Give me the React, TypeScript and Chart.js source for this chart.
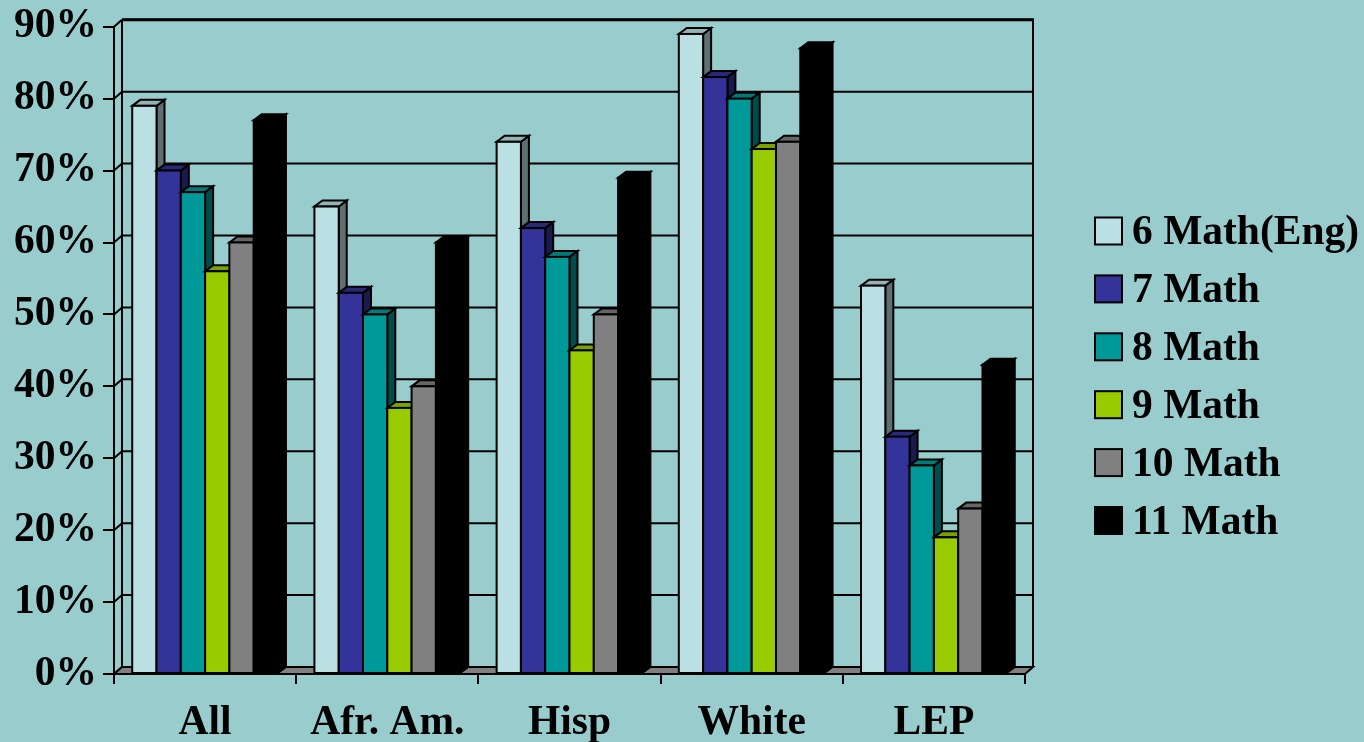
import React, { useEffect, useRef } from 'react';
import { Chart, registerables } from 'chart.js';

Chart.register(...registerables);

const categories = ['All', 'Afr. Am.', 'Hisp', 'White', 'LEP'];
const seriesNames = ['6 Math(Eng)', '7 Math', '8 Math', '9 Math', '10 Math', '11 Math'];
const math6 = [79, 65, 74, 89, 54];
const math7 = [70, 53, 62, 83, 33];
const math8 = [67, 50, 58, 80, 29];
const math9 = [56, 37, 45, 73, 19];
const math10 = [60, 40, 50, 74, 23];
const math11 = [77, 60, 69, 87, 43];
const seriesValues = [math6, math7, math8, math9, math10, math11];
const yMin = 0;
const yMax = 90;
const yStep = 10;

const frontColors = ['#BBE0E3', '#333399', '#009999', '#99CC00', '#808080', '#000000'];
const topColors = ['#95B3B6', '#29297A', '#007A7A', '#7AA300', '#666666', '#000000'];
const sideColors = ['#5E7072', '#1A1A4D', '#004D4D', '#4D6600', '#404040', '#000000'];

const BG = '#99CCCC';
const FONT = '"Liberation Serif", "Times New Roman", serif';
const FONT_SIZE = 41.5;
const WALL_DX = 8;
const WALL_DY = 7;
const BAR_DX = 8;
const BAR_DY = 6;

const threeD = {
  id: 'threeD',
  beforeDatasetsDraw(chart: any) {
    const { ctx, chartArea: a, scales } = chart;
    const y = scales.y;
    const L = a.left, R = a.right, B = a.bottom, T = a.top;
    ctx.save();
    ctx.strokeStyle = '#000';
    ctx.lineWidth = 2;
    ctx.lineJoin = 'miter';
    y.ticks.forEach((t: any) => {
      const yy = y.getPixelForValue(t.value);
      ctx.beginPath();
      ctx.moveTo(L + WALL_DX, yy - WALL_DY);
      ctx.lineTo(R + WALL_DX, yy - WALL_DY);
      ctx.stroke();
      ctx.beginPath();
      ctx.moveTo(L, yy);
      ctx.lineTo(L + WALL_DX, yy - WALL_DY);
      ctx.stroke();
    });
    ctx.beginPath();
    ctx.moveTo(L + WALL_DX, T - WALL_DY);
    ctx.lineTo(L + WALL_DX, B - WALL_DY);
    ctx.moveTo(R + WALL_DX, T - WALL_DY);
    ctx.lineTo(R + WALL_DX, B - WALL_DY);
    ctx.stroke();
    ctx.lineWidth = 3;
    ctx.beginPath();
    ctx.moveTo(L + WALL_DX, T - WALL_DY);
    ctx.lineTo(R + WALL_DX + 1, T - WALL_DY);
    ctx.stroke();
    ctx.lineWidth = 2;
    ctx.fillStyle = '#808080';
    ctx.beginPath();
    ctx.moveTo(L, B);
    ctx.lineTo(R, B);
    ctx.lineTo(R + WALL_DX, B - WALL_DY);
    ctx.lineTo(L + WALL_DX, B - WALL_DY);
    ctx.closePath();
    ctx.fill();
    ctx.stroke();
    ctx.beginPath();
    ctx.moveTo(L, T);
    ctx.lineTo(L, B);
    ctx.stroke();
    ctx.restore();
  },
  afterDatasetsDraw(chart: any) {
    const { ctx, chartArea: a } = chart;
    const n = chart.data.labels.length;
    ctx.save();
    ctx.strokeStyle = '#000';
    ctx.lineWidth = 2;
    ctx.lineJoin = 'miter';
    for (let j = 0; j < n; j++) {
      for (let i = 0; i < chart.data.datasets.length; i++) {
        const meta = chart.getDatasetMeta(i);
        const el = meta.data[j];
        if (!el) continue;
        const p = el.getProps(['x', 'y', 'base', 'width'], true);
        const left = p.x - p.width / 2;
        const right = p.x + p.width / 2;
        const top = Math.min(p.y, p.base);
        const bottom = Math.max(p.y, p.base);
        ctx.fillStyle = sideColors[i];
        ctx.beginPath();
        ctx.moveTo(right, bottom);
        ctx.lineTo(right + BAR_DX, bottom - BAR_DY);
        ctx.lineTo(right + BAR_DX, top - BAR_DY);
        ctx.lineTo(right, top);
        ctx.closePath();
        ctx.fill();
        ctx.stroke();
        ctx.fillStyle = topColors[i];
        ctx.beginPath();
        ctx.moveTo(left, top);
        ctx.lineTo(right, top);
        ctx.lineTo(right + BAR_DX, top - BAR_DY);
        ctx.lineTo(left + BAR_DX, top - BAR_DY);
        ctx.closePath();
        ctx.fill();
        ctx.stroke();
        ctx.fillStyle = frontColors[i];
        ctx.fillRect(left, top, right - left, bottom - top);
        ctx.strokeRect(left, top, right - left, bottom - top);
      }
    }
    ctx.beginPath();
    ctx.moveTo(a.left - 11, a.bottom);
    ctx.lineTo(a.right, a.bottom);
    ctx.stroke();
    ctx.restore();
  },
  afterDraw(chart: any) {
    const { ctx } = chart;
    ctx.save();
    ctx.font = `bold ${FONT_SIZE}px ${FONT}`;
    ctx.textAlign = 'left';
    ctx.textBaseline = 'alphabetic';
    ctx.lineWidth = 2;
    ctx.strokeStyle = '#000';
    const boxX = 1095;
    const textX = 1132;
    const startY = 231;
    const gap = 57.9;
    seriesNames.forEach((name, i) => {
      const cy = startY + i * gap;
      ctx.fillStyle = frontColors[i];
      ctx.fillRect(boxX, cy - 13.5, 27, 27);
      ctx.strokeRect(boxX, cy - 13.5, 27, 27);
      ctx.fillStyle = '#000';
      ctx.fillText(name, textX, cy + 13);
    });
    ctx.restore();
  },
};

export default function App() {
  const canvasRef = useRef<HTMLCanvasElement | null>(null);

  useEffect(() => {
    const canvas = canvasRef.current;
    if (!canvas) return;
    const chart = new Chart(canvas, {
      type: 'bar',
      data: {
        labels: categories,
        datasets: seriesNames.map((name, i) => ({
          label: name,
          data: seriesValues[i],
          backgroundColor: frontColors[i],
          borderColor: '#000',
          borderWidth: 0,
          categoryPercentage: 0.8,
          barPercentage: 1,
        })),
      },
      options: {
        animation: false,
        responsive: true,
        maintainAspectRatio: false,
        layout: { padding: { left: 0, top: 26, right: 339, bottom: 0 } },
        plugins: {
          legend: { display: false },
          tooltip: { enabled: false },
        },
        scales: {
          x: {
            type: 'category',
            offset: true,
            grid: {
              display: true,
              offset: true,
              drawOnChartArea: false,
              drawTicks: true,
              tickLength: 10,
              color: '#000',
              lineWidth: 2,
            },
            border: { display: true, color: '#000', width: 2 },
            ticks: {
              color: '#000',
              font: { family: FONT, size: FONT_SIZE, weight: 'bold' },
              padding: 14,
              maxRotation: 0,
              autoSkip: false,
            },
            afterFit: (s: any) => {
              s.height = 68;
            },
          },
          y: {
            min: yMin,
            max: yMax,
            grid: {
              display: true,
              drawOnChartArea: false,
              drawTicks: true,
              tickLength: 11,
              color: '#000',
              lineWidth: 2,
            },
            border: { display: true, color: '#000', width: 2 },
            ticks: {
              stepSize: yStep,
              color: '#000',
              font: { family: FONT, size: FONT_SIZE, weight: 'bold', lineHeight: 1 },
              padding: 6,
              callback: (v: any) => `${v}%`,
            },
            afterFit: (s: any) => {
              s.width = 114;
            },
          },
        },
      },
      plugins: [threeD],
    });
    return () => chart.destroy();
  }, []);

  return (
    <div
      style={{
        position: 'fixed',
        left: 0,
        top: 0,
        width: 1364,
        height: 742,
        background: BG,
      }}
    >
      <canvas ref={canvasRef} />
    </div>
  );
}
